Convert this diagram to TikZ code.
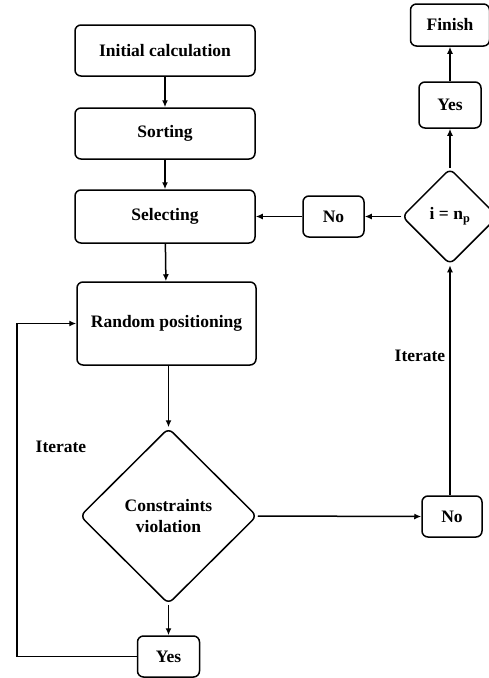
\documentclass[tikz,border=0pt]{standalone}
\usepackage{fontspec}
\setmainfont{Liberation Serif}
\usetikzlibrary{shapes.geometric,arrows.meta}

\tikzset{
    box/.style={draw, rounded corners=6pt, line width=1.5pt, inner sep=2pt, font=\fontsize{17.5}{21}\selectfont\bfseries},
    test/.style={draw, diamond, rounded corners=6pt, line width=1.5pt, inner sep=0pt, align=center, font=\fontsize{17.5}{21}\selectfont\bfseries},
    flow/.style={line width=1.5pt, -{Latex[length=7pt,width=6pt]}},
    tag/.style={font=\fontsize{17.5}{21}\selectfont\bfseries}
}

\begin{document}
\begin{tikzpicture}[x=1pt, y=-1pt]
    \useasboundingbox (0,0) rectangle (489,678);

    % Main column
    \node[box, minimum width=180, minimum height=51] (init) at (165, 50.5) {Initial calculation};
    \node[box, minimum width=180, minimum height=51] (sort) at (165, 133.5) {Sorting};
    \node[box, minimum width=180, minimum height=53] (select) at (165, 216.5) {Selecting};
    \node[box, minimum width=179, minimum height=83] (random) at (166.5, 323.5) {Random positioning};
    \node[test, minimum width=177, minimum height=176] (cons) at (168.5, 516) {Constraints\\violation};
    \node[box, minimum width=62, minimum height=41] (yesB) at (168.5, 656.5) {Yes};

    % Right column
    \node[box, minimum width=60, minimum height=41] (noB) at (452, 516.5) {No};
    \node[test, minimum width=96, minimum height=96] (check) at (450, 216.5) {i = n\textsubscript{p}};
    \node[box, minimum width=61, minimum height=41] (noT) at (333.5, 216.5) {No};
    \node[box, minimum width=62, minimum height=46] (yesT) at (450, 105) {Yes};
    \node[box, minimum width=79, minimum height=42] (finish) at (450, 25) {Finish};

    % Labels
    \node[tag] (iterL) at (61, 447) {Iterate};
    \node[tag] (iterR) at (420, 356) {Iterate};

    % Arrows
    \draw[flow] (init) -- (sort);
    \draw[flow] (sort) -- (select);
    \draw[flow] (select) -- (random);
    \draw[flow] (random.south -| cons.north) -- (cons.north);
    \draw[flow] (cons.south) -- (yesB.north);
    \draw[flow] (cons.east) -- (noB.west);
    \draw[flow] (noB.north -| check.south) -- (check.south);
    \draw[flow] (check.north) -- (yesT.south);
    \draw[flow] (yesT) -- (finish);
    \draw[flow] (check.west) -- (noT.east);
    \draw[flow] (noT.west) -- (select.east);

    % Loop back
    \coordinate (back) at (17, 656.5);
    \draw[flow] (yesB.west) -- (back) |- (random.west);
\end{tikzpicture}
\end{document}
